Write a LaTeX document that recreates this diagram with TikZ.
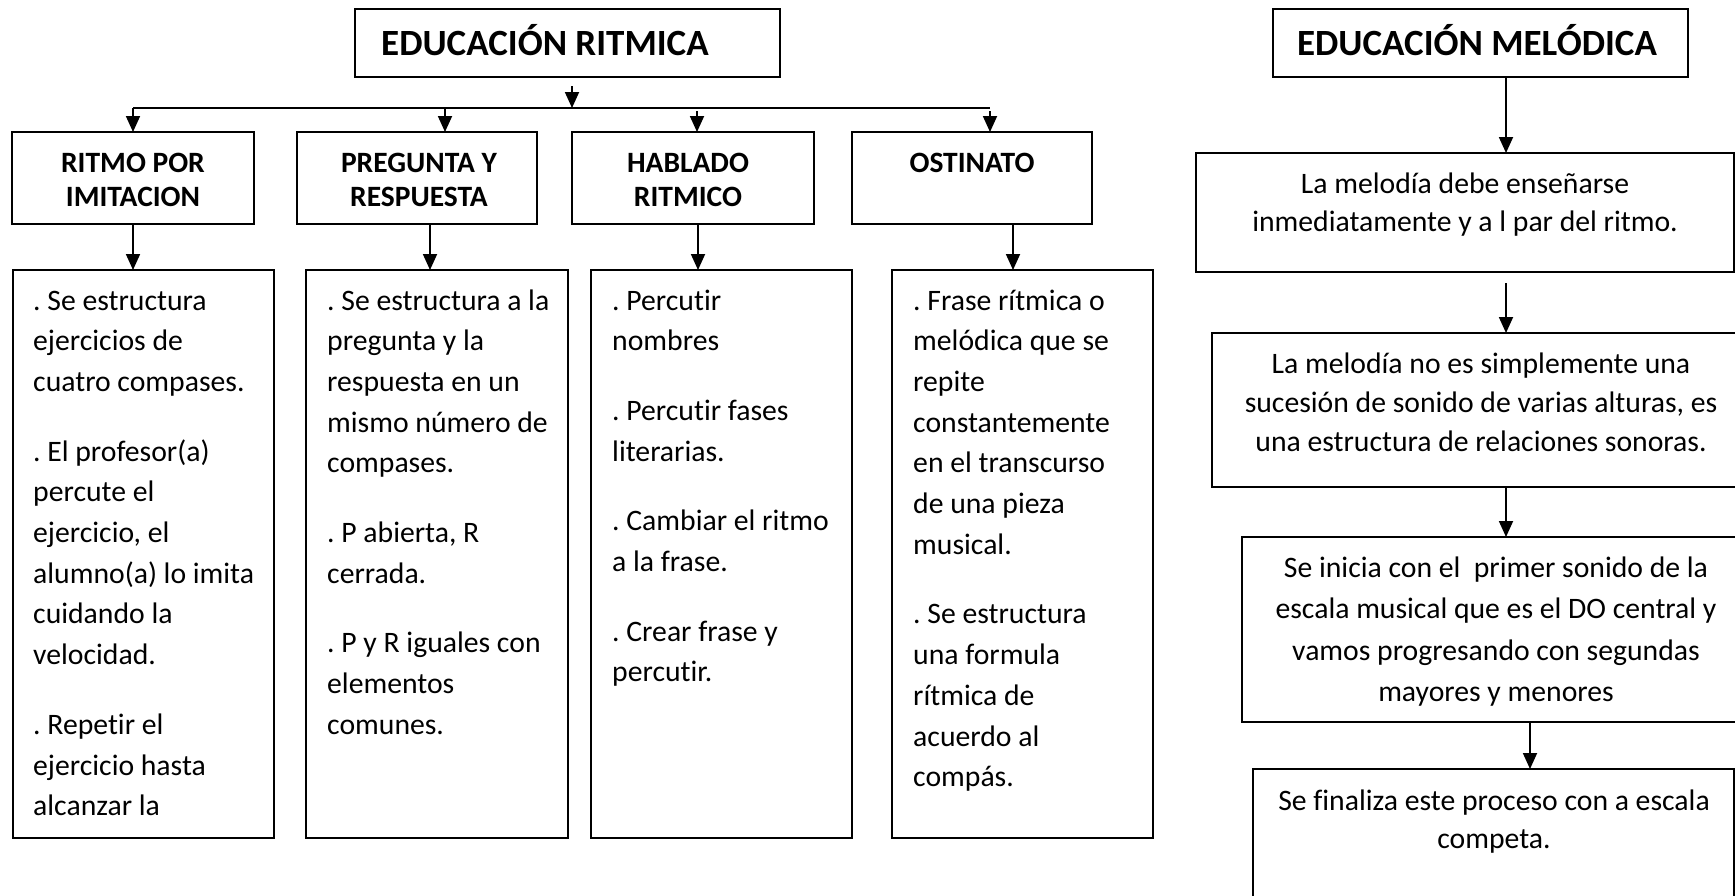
\documentclass[tikz,border=0pt]{standalone}
\usepackage{fontspec}
\setmainfont{Carlito}[Ligatures={NoCommon}]
\usetikzlibrary{arrows.meta,calc}
\frenchspacing
\begin{document}
\begin{tikzpicture}[x=1pt,y=-1pt,
  box/.style={draw, line width=1.8pt, anchor=north west, inner sep=0pt, outer sep=0pt},
  arr/.style={line width=1.8pt, -{Triangle[length=16pt,width=14pt]}},
  conn/.style={line width=1.8pt},
  titletxt/.style={font=\frenchspacing\bfseries\fontsize{37}{44}\selectfont, inner sep=0pt, anchor=base},
  headtxt/.style={font=\frenchspacing\bfseries\fontsize{29.5}{34.5}\selectfont, inner sep=0pt, align=flush center, anchor=base, text width=230pt},
  bodytxt/.style={font=\frenchspacing\fontsize{29.7}{40.7}\selectfont, inner sep=0pt, align=flush left, anchor=base west, text width=245pt},
  meltxt/.style={font=\frenchspacing\fontsize{29.7}{#1}\selectfont, inner sep=0pt, align=flush center, anchor=base, text width=580pt},
  meltxt/.default=40,
]
\useasboundingbox (0,0) rectangle (1735,895);
\fill[white] (0,0) rectangle (1735,895);
\clip (0,0) rectangle (1735,895);

% ---------- EDUCACION RITMICA ----------
\node[box, minimum width=425pt, minimum height=68pt] (tr) at (355,9) {};
\node[titletxt, anchor=base west] (trt) at (381,55) {EDUCACIÓN RITMICA};

\coordinate (ta) at (572,86);
\coordinate (j)  at (572,108);
\coordinate (jl) at (133,108);
\coordinate (jr) at (990,108);
\coordinate (j2) at (445,108);
\coordinate (j3) at (697,111);
\coordinate (j4) at (990,111);

\node[box, minimum width=242pt, minimum height=92pt] (h1) at (12,132) {};
\node[box, minimum width=240pt, minimum height=92pt] (h2) at (297,132) {};
\node[box, minimum width=242pt, minimum height=92pt] (h3) at (572,132) {};
\node[box, minimum width=240pt, minimum height=92pt] (h4) at (852,132) {};

\node[headtxt] (h1t) at (133,172) {RITMO POR\\IMITACION};
\node[headtxt] (h2t) at (419,172) {PREGUNTA Y\\RESPUESTA};
\node[headtxt] (h3t) at (688,172) {HABLADO\\RITMICO};
\node[headtxt] (h4t) at (972,172) {OSTINATO};

\draw[arr] (ta) -- (j);
\draw[conn] (jl) -- (jr);
\draw[arr] (jl) -- (jl |- h1.north);
\draw[arr] (j2) -- (j2 |- h2.north);
\draw[arr] (j3) -- (j3 |- h3.north);
\draw[arr] (j4) -- (j4 |- h4.north);

\node[box, minimum width=261pt, minimum height=568pt] (b1) at (13,270) {};
\node[box, minimum width=262pt, minimum height=568pt] (b2) at (306,270) {};
\node[box, minimum width=261pt, minimum height=568pt] (b3) at (591,270) {};
\node[box, minimum width=261pt, minimum height=568pt] (b4) at (892,270) {};

\coordinate (k1) at (133,224);
\coordinate (k2) at (430,224);
\coordinate (k3) at (698,224);
\coordinate (k4) at (1013,224);
\draw[arr] (k1) -- (k1 |- b1.north);
\draw[arr] (k2) -- (k2 |- b2.north);
\draw[arr] (k3) -- (k3 |- b3.north);
\draw[arr] (k4) -- (k4 |- b4.north);

\node[bodytxt] (b1t) at (33,310) {. Se estructura\\ejercicios de\\cuatro compases.\\[29pt]. El profesor(a)\\percute el\\ejercicio, el\\alumno(a) lo imita\\cuidando la\\velocidad.\\[29pt]. Repetir el\\ejercicio hasta\\alcanzar la};
\node[bodytxt] (b2t) at (327,310) {. Se estructura a la\\pregunta y la\\respuesta en un\\mismo número de\\compases.\\[29pt]. P abierta, R\\cerrada.\\[29pt]. P y R iguales con\\elementos\\comunes.};
\node[bodytxt] (b3t) at (612,310) {. Percutir\\nombres\\[29pt]. Percutir fases\\literarias.\\[29pt]. Cambiar el ritmo\\a la frase.\\[29pt]. Crear frase y\\percutir.};
\node[bodytxt] (b4t) at (913,310) {. Frase rítmica o\\melódica que se\\repite\\constantemente\\en el transcurso\\de una pieza\\musical.\\[29pt]. Se estructura\\una formula\\rítmica de\\acuerdo al\\compás.};

% ---------- EDUCACION MELODICA ----------
\node[box, minimum width=415pt, minimum height=68pt] (m0) at (1273,9) {};
\node[titletxt] (m0t) at (1477,55) {EDUCACIÓN MELÓDICA};

\node[box, minimum width=538pt, minimum height=119pt] (m1) at (1196,153) {};
\node[box, minimum width=540pt, minimum height=154pt] (m2) at (1212,333) {};
\node[box, minimum width=510pt, minimum height=185pt] (m3) at (1242,537) {};
\node[box, minimum width=481pt, minimum height=170pt] (m4) at (1253,769) {};

\node[meltxt=38] (m1t) at (1465,193) {La melodía debe enseñarse\\inmediatamente y a l par del ritmo.};
\node[meltxt=39] (m2t) at (1481,373) {La melodía no es simplemente una\\sucesión de sonido de varias alturas, es\\una estructura de relaciones sonoras.};
\node[meltxt=41.5] (m3t) at (1496,577) {Se inicia con el\ \ primer sonido de la\\escala musical que es el DO central y\\vamos progresando con segundas\\mayores y menores};
\node[meltxt=38] (m4t) at (1494,810) {Se finaliza este proceso con a escala\\competa.};

\coordinate (ma) at (1506,77);
\coordinate (mb) at (1506,283);
\coordinate (mc) at (1530,721);
\draw[arr] (ma) -- (ma |- m1.north);
\draw[arr] (mb) -- (mb |- m2.north);
\draw[arr] (m2.south -| ma) -- (ma |- m3.north);
\draw[arr] (mc) -- (mc |- m4.north);
\end{tikzpicture}
\end{document}
